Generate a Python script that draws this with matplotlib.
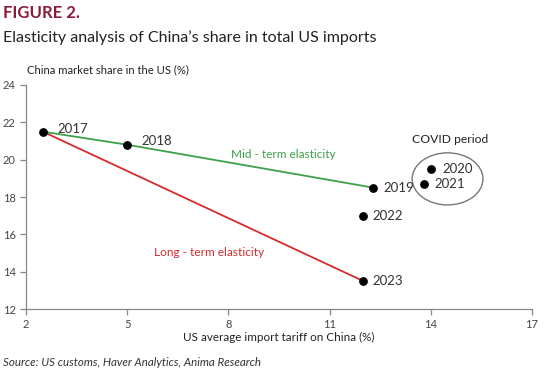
import matplotlib
matplotlib.use("Agg")
import matplotlib.pyplot as plt
from matplotlib.patches import Ellipse

years = ["2017", "2018", "2019", "2020", "2021", "2022", "2023"]
tariff = [2.5, 5.0, 12.3, 14.0, 13.8, 12.0, 12.0]
share = [21.5, 20.8, 18.5, 19.5, 18.7, 17.0, 13.5]
mid_years = ["2017", "2018", "2019"]
long_years = ["2017", "2023"]
xticks = [2, 5, 8, 11, 14, 17]
yticks = [12, 14, 16, 18, 20, 22, 24]
# label offsets in pixels (dx, dy)
label_off = {"2017": (15, 3), "2018": (14, 4), "2019": (10, 0), "2020": (12, 0),
             "2021": (10, 0), "2022": (9, 0), "2023": (9, 0)}

plt.rcParams['font.family'] = ['Lato', 'DejaVu Sans']
DPI = 100
fig = plt.figure(figsize=(5.59, 3.71), dpi=DPI)
ax = fig.add_axes([0.0465, 0.167, 0.905, 0.604])

idx = {y: i for i, y in enumerate(years)}
green = "#3ea04a"
red = "#d62b2b"
ax.plot([tariff[idx[y]] for y in mid_years], [share[idx[y]] for y in mid_years],
        color=green, lw=1.3, zorder=2)
ax.plot([tariff[idx[y]] for y in long_years], [share[idx[y]] for y in long_years],
        color=red, lw=1.3, zorder=2)
ax.scatter(tariff, share, s=28, color="black", zorder=3)

for y in years:
    dx, dy = label_off[y]
    ax.annotate(y, (tariff[idx[y]], share[idx[y]]), xytext=(dx * 0.72, dy * 0.72),
                textcoords="offset points", ha="left", va="center",
                fontsize=9.5, color="#333333")

ax.add_patch(Ellipse((14.5, 18.97), 2.1, 2.79, fill=False, edgecolor="#777777", lw=1.0))
ax.text(14.57, 21.1, "COVID period", ha="center", va="center", fontsize=8.7, color="#222222")
ax.text(9.63, 20.3, "Mid - term elasticity", ha="center", va="center", fontsize=8.5, color=green)
ax.text(7.44, 15.05, "Long - term elasticity", ha="center", va="center", fontsize=8.6, color=red)

ax.set_xlim(2, 17)
ax.set_ylim(12, 24)
ax.set_xticks(xticks)
ax.set_yticks(yticks)
for s in ["top", "right"]:
    ax.spines[s].set_visible(False)
for s in ["left", "bottom"]:
    ax.spines[s].set_color("#888888")
    ax.spines[s].set_linewidth(0.9)
ax.tick_params(colors="#888888", labelcolor="#444444", labelsize=8, length=4, width=0.9)

ax.set_xlabel("US average import tariff on China (%)", fontsize=8.4, color="#222222", labelpad=1)
fig.text(27 / 559, 1 - 70 / 371, "China market share in the US (%)", fontsize=8.1,
         color="#222222", ha="left", va="center")

fig.text(3 / 559, 1 - 13 / 371, "FIGURE 2.", fontsize=12, fontweight="bold",
         color="#8a1c3a", ha="left", va="center")
fig.text(3 / 559, 1 - 38 / 371, "Elasticity analysis of China\u2019s share in total US imports",
         fontsize=11.5, color="#222222", ha="left", va="center")
fig.text(3 / 559, 1 - 362 / 371, "Source: US customs, Haver Analytics, Anima Research",
         fontsize=8.3, style="italic", color="#333333", ha="left", va="center")

fig.savefig("out.png", dpi=DPI)
